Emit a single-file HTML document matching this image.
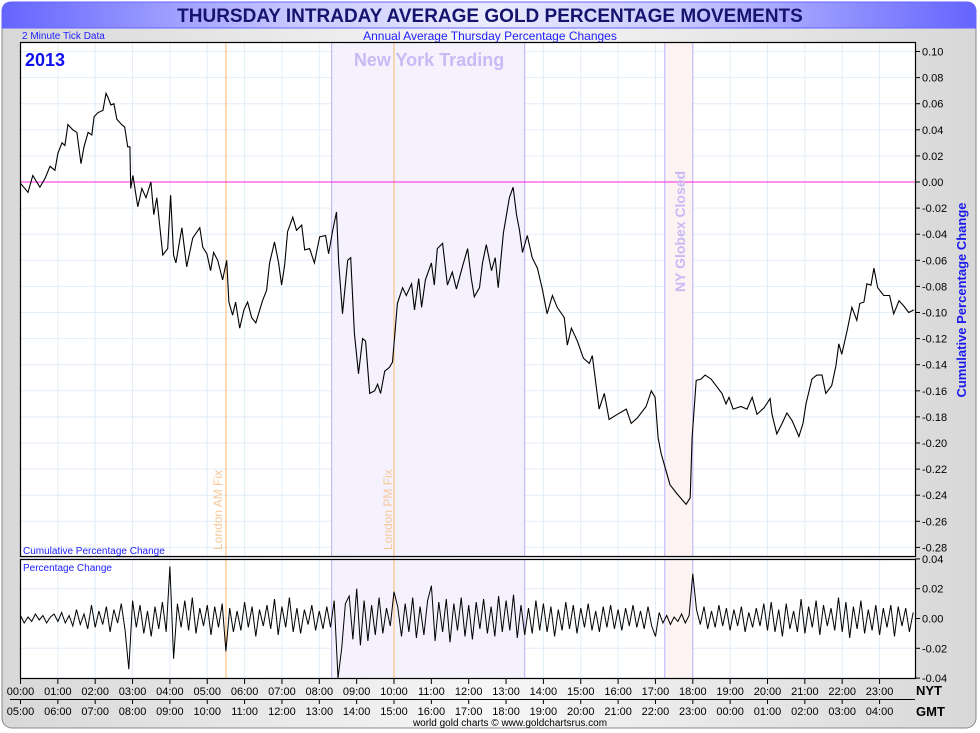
<!DOCTYPE html>
<html><head><meta charset="utf-8"><style>
body{margin:0;background:#fff;}
svg{display:block;font-family:"Liberation Sans",sans-serif;}
</style></head><body>
<svg id="c" width="980" height="733" viewBox="0 0 980 733" xmlns="http://www.w3.org/2000/svg">
<defs>
<linearGradient id="tg" x1="0" x2="1" y1="0" y2="0">
<stop offset="0" stop-color="#6464ff"/><stop offset="0.3" stop-color="#c8c8ff"/><stop offset="0.5" stop-color="#ececff"/><stop offset="0.7" stop-color="#c8c8ff"/><stop offset="1" stop-color="#6464ff"/></linearGradient>
<linearGradient id="bg" x1="0" x2="1" y1="0" y2="0"><stop offset="0" stop-color="#d8d8d8"/><stop offset="0.5" stop-color="#f6f6f6"/><stop offset="1" stop-color="#d8d8d8"/></linearGradient>
</defs>
<rect x="0" y="0" width="980" height="733" fill="#fff"/>
<rect x="2" y="2" width="974" height="726" rx="10" fill="url(#bg)" stroke="#888"/>
<path d="M2,28 V12 Q2,2 12,2 H966 Q976,2 976,12 V28 Z" fill="url(#tg)" stroke="#6464ff"/>
<text x="490" y="22" text-anchor="middle" font-size="19" font-weight="bold" fill="#14146e">THURSDAY INTRADAY AVERAGE GOLD PERCENTAGE MOVEMENTS</text>
<text x="22" y="39" font-size="10" fill="#2020ff">2 Minute Tick Data</text>
<text x="490" y="40" text-anchor="middle" font-size="12" fill="#2020ff">Annual Average Thursday Percentage Changes</text>
<rect x="20.5" y="42" width="895" height="515" fill="#fff"/>
<rect x="20.5" y="559" width="895" height="120" fill="#fff"/>
<g id="grid"></g><g id="shades"></g><g id="marks"></g>
<rect x="20.5" y="42.5" width="895" height="514" fill="none" stroke="#000" stroke-width="1.2"/>
<rect x="20.5" y="559.5" width="895" height="119" fill="none" stroke="#000" stroke-width="1.2"/>
<text x="25" y="66" font-size="18" font-weight="bold" fill="#1010ee">2013</text>
<text x="429" y="66" text-anchor="middle" font-size="18" font-weight="bold" fill="#c8baf4">New York Trading</text>
<text transform="translate(222,550) rotate(-90)" font-size="12" fill="#f7c898">London AM Fix</text>
<text transform="translate(392,550) rotate(-90)" font-size="12" fill="#f7c898">London PM Fix</text>
<text transform="translate(685,292) rotate(-90)" font-size="14" font-weight="bold" fill="#c8baf4">NY Globex Closed</text>
<text x="23" y="554" font-size="10" fill="#2020ff">Cumulative Percentage Change</text>
<text x="23" y="571" font-size="10" fill="#2020ff">Percentage Change</text>
<text transform="translate(966,300) rotate(-90)" text-anchor="middle" font-size="13" font-weight="bold" fill="#1a1aee">Cumulative Percentage Change</text>
<line x1="10" x2="915" y1="699.5" y2="699.5" stroke="#000"/>
<text x="916" y="695" font-size="13" font-weight="bold" fill="#000">NYT</text>
<text x="916" y="716" font-size="13" font-weight="bold" fill="#000">GMT</text>
<text x="510" y="726" text-anchor="middle" font-size="10" fill="#000">world gold charts © www.goldchartsrus.com</text>
<g id="axes"></g>
</svg>
<script>
const cumHours=[0,0.2,0.33,0.52,0.66,0.79,0.92,1.0,1.11,1.19,1.27,1.4,1.51,1.62,1.7,1.81,1.91,1.97,2.07,2.21,2.29,2.34,2.42,2.5,2.58,2.71,2.79,2.87,2.93,2.95,3.01,3.14,3.25,3.36,3.49,3.57,3.65,3.81,3.94,4.02,4.1,4.16,4.32,4.45,4.61,4.8,4.88,4.99,5.09,5.17,5.28,5.41,5.52,5.58,5.68,5.76,5.87,5.98,6.08,6.19,6.3,6.48,6.59,6.67,6.8,6.91,6.99,7.07,7.15,7.29,7.39,7.53,7.61,7.74,7.87,8.01,8.17,8.25,8.36,8.46,8.52,8.62,8.76,8.84,8.94,9.05,9.16,9.24,9.35,9.48,9.56,9.64,9.75,9.88,9.96,10.09,10.23,10.33,10.47,10.55,10.66,10.74,10.84,11.0,11.08,11.16,11.3,11.43,11.56,11.67,11.83,11.97,12.07,12.15,12.29,12.37,12.47,12.61,12.71,12.79,12.93,13.09,13.19,13.28,13.36,13.44,13.57,13.7,13.84,13.97,14.1,14.24,14.37,14.56,14.64,14.75,14.91,15.07,15.23,15.31,15.49,15.63,15.76,15.98,16.22,16.35,16.51,16.75,16.89,16.99,17.07,17.15,17.29,17.39,17.58,17.82,17.93,17.98,18.09,18.22,18.33,18.49,18.62,18.78,18.89,18.97,19.08,19.29,19.45,19.59,19.72,19.91,20.07,20.12,20.25,20.39,20.52,20.66,20.84,20.95,21.03,21.19,21.32,21.46,21.56,21.72,21.83,21.91,21.99,22.13,22.26,22.39,22.47,22.58,22.66,22.77,22.85,22.95,23.11,23.27,23.38,23.52,23.65,23.78,23.92];
const cumValues=[-0.001,-0.008,0.005,-0.004,0.003,0.012,0.009,0.022,0.03,0.028,0.044,0.04,0.038,0.014,0.027,0.038,0.036,0.05,0.053,0.055,0.068,0.065,0.059,0.06,0.048,0.044,0.042,0.027,0.027,-0.005,0.005,-0.019,-0.005,-0.012,0,-0.025,-0.012,-0.056,-0.051,-0.01,-0.056,-0.062,-0.035,-0.065,-0.043,-0.035,-0.05,-0.055,-0.068,-0.054,-0.06,-0.075,-0.06,-0.092,-0.102,-0.092,-0.112,-0.098,-0.092,-0.104,-0.108,-0.091,-0.083,-0.062,-0.046,-0.062,-0.079,-0.064,-0.038,-0.027,-0.037,-0.033,-0.052,-0.051,-0.062,-0.042,-0.041,-0.055,-0.037,-0.023,-0.062,-0.101,-0.06,-0.058,-0.116,-0.147,-0.12,-0.122,-0.162,-0.16,-0.155,-0.162,-0.145,-0.142,-0.138,-0.093,-0.081,-0.087,-0.078,-0.098,-0.074,-0.096,-0.075,-0.062,-0.079,-0.051,-0.047,-0.079,-0.069,-0.082,-0.065,-0.051,-0.074,-0.088,-0.081,-0.062,-0.048,-0.068,-0.058,-0.081,-0.039,-0.012,-0.004,-0.025,-0.037,-0.054,-0.041,-0.058,-0.066,-0.082,-0.101,-0.087,-0.096,-0.104,-0.125,-0.112,-0.122,-0.135,-0.139,-0.133,-0.174,-0.162,-0.182,-0.178,-0.174,-0.185,-0.181,-0.172,-0.16,-0.165,-0.196,-0.208,-0.222,-0.232,-0.239,-0.247,-0.242,-0.196,-0.152,-0.151,-0.148,-0.151,-0.156,-0.162,-0.17,-0.165,-0.174,-0.172,-0.174,-0.165,-0.178,-0.173,-0.166,-0.178,-0.193,-0.185,-0.177,-0.183,-0.195,-0.185,-0.17,-0.151,-0.148,-0.148,-0.162,-0.156,-0.141,-0.124,-0.132,-0.114,-0.096,-0.106,-0.093,-0.092,-0.078,-0.079,-0.066,-0.081,-0.087,-0.087,-0.101,-0.091,-0.095,-0.1,-0.098];
const pctStepHours=0.1;
const pctValues=[2,-3,1,-2,3,-1,2,-3,1,3,-2,4,-3,2,-5,6,-4,3,-7,9,-6,5,-4,8,-9,6,-3,10,-8,-34,12,-6,9,-10,5,-12,8,-7,11,-9,35,-27,10,-6,12,-8,14,-10,7,-5,9,-11,8,-6,10,-22,7,-9,5,-8,11,-6,8,-12,6,-5,9,-7,13,-11,8,-6,14,-9,7,-10,6,-4,9,-8,5,-7,8,-6,12,-40,-20,10,15,-14,20,-18,12,-15,9,-11,14,-10,7,-5,18,8,-12,10,-9,14,-13,8,-11,12,22,-15,11,-9,13,-16,10,-8,14,-12,9,-14,11,-7,13,-10,8,-12,15,-9,12,-8,16,-13,9,-11,7,-10,12,-8,10,-9,8,-12,6,-8,11,-7,9,-10,7,-6,10,-8,5,-9,8,-6,9,-7,6,-8,7,-5,9,-6,5,-7,8,-5,-12,4,-3,2,-4,1,-2,3,-3,2,30,6,-4,8,-7,5,-6,9,-5,7,-8,6,-5,8,-9,4,-6,7,-5,10,-8,11,-9,6,-12,10,-7,5,-9,13,-10,8,-6,12,-11,9,-5,7,-8,14,-9,11,-13,8,-7,12,-10,6,-8,9,-11,7,-6,9,-12,8,-5,7,-9,4];
const mainTicks=[0.10,0.08,0.06,0.04,0.02,0.00,-0.02,-0.04,-0.06,-0.08,-0.10,-0.12,-0.14,-0.16,-0.18,-0.20,-0.22,-0.24,-0.26,-0.28];
const lowerTicks=[0.04,0.02,0.00,-0.02,-0.04];
const nytLabels=["00:00","01:00","02:00","03:00","04:00","05:00","06:00","07:00","08:00","09:00","10:00","11:00","12:00","13:00","14:00","15:00","16:00","17:00","18:00","19:00","20:00","21:00","22:00","23:00"];
const gmtLabels=["05:00","06:00","07:00","08:00","09:00","10:00","11:00","12:00","13:00","14:00","15:00","16:00","17:00","18:00","19:00","20:00","21:00","22:00","23:00","00:00","01:00","02:00","03:00","04:00"];
const nyTrading=[8.33,13.5], globexClosed=[17.25,18.0], fixes=[5.5,10.0];

const NS="http://www.w3.org/2000/svg";
const X=h=>20.5+h*37.35;
const Y=v=>182-v*1305;
const YL=v=>618.5-v*1490;
function mk(tag,attrs,parent){const e=document.createElementNS(NS,tag);for(const k in attrs)e.setAttribute(k,attrs[k]);parent.appendChild(e);return e;}
const grid=document.getElementById('grid'),shades=document.getElementById('shades'),marks=document.getElementById('marks'),axes=document.getElementById('axes');
for(let h=1;h<24;h++){
  const g1=mk('line',{x1:X(h),x2:X(h),y1:42,y2:557,stroke:'#e2eef8'},grid);
  
  
  mk('line',{x1:X(h),x2:X(h),y1:559,y2:679,stroke:'#e2eef8'},grid);
}
mainTicks.forEach(v=>{
  const y=Y(v);
  const gl=mk('line',{x1:20.5,x2:915,y1:y,y2:y,stroke:'#e2eef8'},grid);
  
  
  mk('line',{x1:915,x2:920,y1:y,y2:y,stroke:'#000'},axes);
  const t=mk('text',{x:922,y:y+4,'font-size':11,fill:'#000'},axes);
  t.textContent=v.toFixed(2);
  
  
});
lowerTicks.forEach(v=>{
  const y=YL(v);
  mk('line',{x1:20.5,x2:915,y1:y,y2:y,stroke:'#e2eef8'},grid);
  mk('line',{x1:915,x2:920,y1:y,y2:y,stroke:'#000'},axes);
  const t=mk('text',{x:922,y:y+4,'font-size':11,fill:'#000'},axes);
  t.textContent=v.toFixed(2);
  
  
});
[[nyTrading,'#f5f2fe','ny-trading-shade'],[globexClosed,'#fdf3f3','globex-closed-shade']].forEach(([r,c,n])=>{
  [[42,515],[559,120]].forEach(([y,h])=>{
    const s=mk('rect',{x:X(r[0]),y:y,width:X(r[1])-X(r[0]),height:h,fill:c},shades);
    
    
    mk('line',{x1:X(r[0]),x2:X(r[0]),y1:y,y2:y+h,stroke:'#b8b0f8'},shades);
    mk('line',{x1:X(r[1]),x2:X(r[1]),y1:y,y2:y+h,stroke:'#b8b0f8'},shades);
  });
});
fixes.forEach(h=>{
  const f=mk('line',{x1:X(h),x2:X(h),y1:42,y2:679,stroke:'#f8b86c'},shades);
  
  
});
const zl=mk('line',{x1:20.5,x2:915,y1:Y(0),y2:Y(0),stroke:'#ff20e0'},marks);


const cp=mk('path',{d:cumHours.map((h,i)=>(i?'L':'M')+X(h).toFixed(1)+','+Y(cumValues[i]).toFixed(1)).join(''),fill:'none',stroke:'#000','stroke-width':1.1},marks);


const pp=mk('path',{d:pctValues.map((v,i)=>(i?'L':'M')+X(i*pctStepHours).toFixed(1)+','+YL(v/1000).toFixed(1)).join(''),fill:'none',stroke:'#000','stroke-width':1},marks);


for(let h=0;h<24;h++){
  const x=X(h);
  mk('line',{x1:x,x2:x,y1:679,y2:684,stroke:'#000'},axes);
  mk('line',{x1:x,x2:x,y1:699,y2:704,stroke:'#000'},axes);
  const a=mk('text',{x:x,y:695,'text-anchor':'middle','font-size':11,fill:'#000'},axes);
  a.textContent=nytLabels[h];
  
  
  const b=mk('text',{x:x,y:715,'text-anchor':'middle','font-size':11,fill:'#000'},axes);
  b.textContent=gmtLabels[h];
  
  
}
</script>
</body></html>
